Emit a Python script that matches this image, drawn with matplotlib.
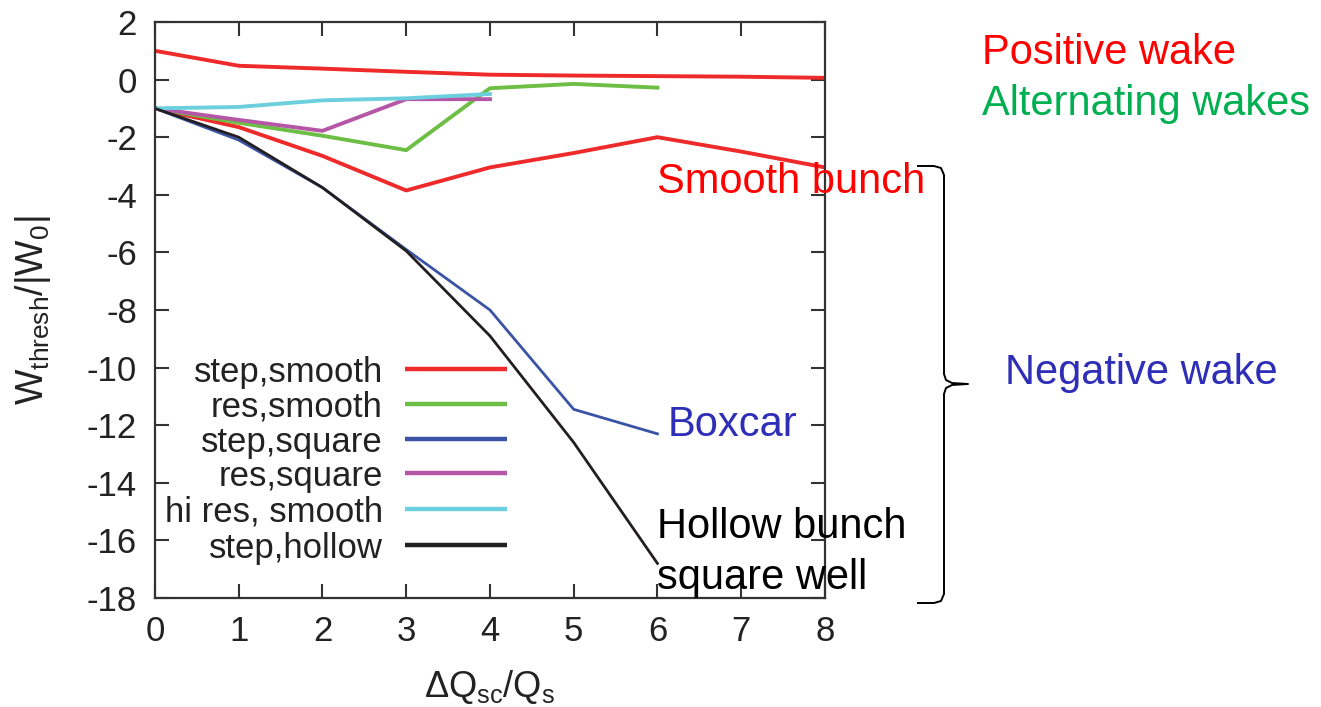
import matplotlib
matplotlib.use("Agg")
import matplotlib.pyplot as plt
from matplotlib.lines import Line2D

plt.rcParams['font.family'] = ['Liberation Sans', 'DejaVu Sans']
plt.rcParams['mathtext.default'] = 'regular'
plt.rcParams['axes.unicode_minus'] = False

# threshold wake strength vs space charge tune shift
dq = [0, 1, 2, 3, 4, 5, 6, 7, 8]
dq_short = [0, 1, 2, 3, 4, 5, 6]
dq_shorter = [0, 1, 2, 3, 4]

positive_wake = [1.0, 0.48, 0.38, 0.27, 0.17, 0.14, 0.12, 0.1, 0.06]
step_smooth = [-1.0, -1.65, -2.65, -3.85, -3.05, -2.55, -2.0, -2.5, -3.05]
res_smooth = [-1.0, -1.5, -1.95, -2.45, -0.3, -0.15, -0.28]
step_square = [-1.0, -2.1, -3.75, -5.9, -8.0, -11.45, -12.3]
res_square = [-1.0, -1.4, -1.78, -0.68, -0.68]
hi_res_smooth = [-1.0, -0.95, -0.72, -0.65, -0.5]
step_hollow = [-1.0, -2.0, -3.75, -5.95, -8.9, -12.6, -16.8]

series = [
    ("step,smooth", dq, step_smooth, "#ee2a2a", 2.8),
    ("res,smooth", dq_short, res_smooth, "#6dbe45", 2.8),
    ("step,square", dq_short, step_square, "#3a53a4", 2.0),
    ("res,square", dq_shorter, res_square, "#b556a6", 2.8),
    ("hi res, smooth", dq_shorter, hi_res_smooth, "#6ccfdf", 2.8),
    ("step,hollow", dq_short, step_hollow, "#231f20", 2.0),
]

fig = plt.figure(figsize=(13.21, 7.07), dpi=100)
ax = fig.add_axes([0.1173, 0.1542, 0.5072, 0.8147])

ax.plot(dq, positive_wake, color="#ee2a2a", lw=2.8)
for name, xs, ys, col, lw in series:
    ax.plot(xs, ys, color=col, lw=lw)

ax.set_xlim(0, 8)
ax.set_ylim(-18, 2)
ax.set_xticks(range(0, 9))
ax.set_yticks(range(-18, 3, 2))
ax.tick_params(direction="in", top=True, right=True, length=10, width=1.5,
               labelsize=25, colors="#333333", labelcolor="#222222")
ax.tick_params(axis="y", pad=13)
ax.tick_params(axis="x", pad=12)
for s in ax.spines.values():
    s.set_linewidth(1.6)
    s.set_color("#333333")

ax.set_xlabel("$ΔQ_{sc}/Q_s$", fontsize=26, color="#222222", labelpad=15)
ax.set_ylabel("$W_{thresh}/|W_0|$", fontsize=27, color="#222222", labelpad=24)

# key, text right aligned in front of the line samples
row_y = [0.3976, 0.337, 0.276, 0.217, 0.1545, 0.092]
for (name, xs, ys, col, lw), ry in zip(series, row_y):
    ax.text(0.340, ry, name, transform=ax.transAxes, ha="right",
            va="center_baseline", fontsize=25, color="#222222")
    ax.add_line(Line2D([0.373, 0.525], [ry, ry], transform=ax.transAxes,
                       color=col, lw=3.2, solid_capstyle="butt"))

W, H = 1321.0, 707.0
def fx(px):
    return px / W
def fy(py):
    return 1 - py / H

fig.text(fx(982), fy(53), "Positive wake", color="#ff0000", fontsize=30,
         ha="left", va="center")
fig.text(fx(982), fy(104), "Alternating wakes", color="#00b050", fontsize=30,
         ha="left", va="center")
fig.text(fx(657), fy(182), "Smooth bunch", color="#ff0000", fontsize=30,
         ha="left", va="center")
fig.text(fx(668), fy(425), "Boxcar", color="#2e2eb8", fontsize=30,
         ha="left", va="center")
fig.text(fx(1005), fy(373), "Negative wake", color="#2e2eb8", fontsize=30,
         ha="left", va="center")
fig.text(fx(657), fy(527), "Hollow bunch", color="black", fontsize=30,
         ha="left", va="center")
fig.text(fx(657), fy(578), "square well", color="black", fontsize=30,
         ha="left", va="center")

# curly brace grouping the negative wake cases
brace = [(918, 166), (934, 166), (941, 168), (944, 175), (944, 374),
         (946, 380), (952, 383), (968, 384), (952, 385), (946, 388),
         (944, 394), (944, 594), (941, 601), (934, 603), (918, 603)]
fig.add_artist(Line2D([fx(p[0]) for p in brace], [fy(p[1]) for p in brace],
                      transform=fig.transFigure, color="black", lw=1.4))

fig.savefig("out.png", dpi=100)
